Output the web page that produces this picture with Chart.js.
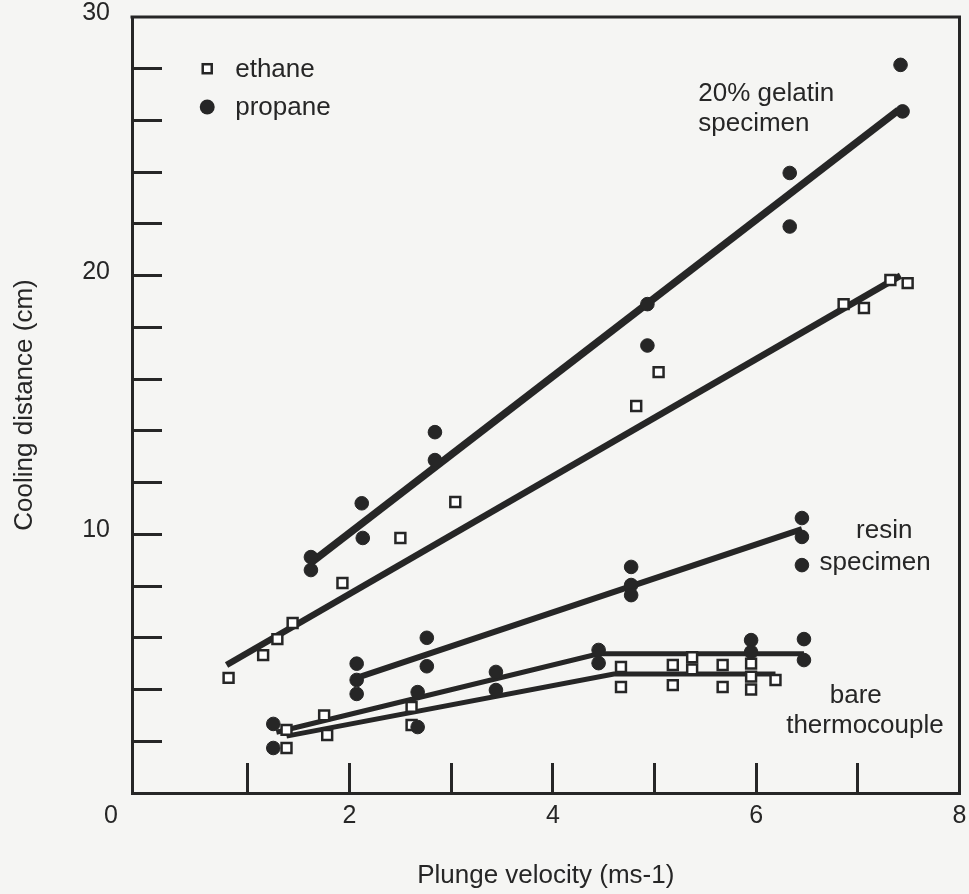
<!DOCTYPE html>
<html>
<head>
<meta charset="utf-8">
<script src="https://cdn.jsdelivr.net/npm/chart.js@4.4.1/dist/chart.umd.min.js"></script>
<style>
html,body{margin:0;padding:0;background:#f5f5f3;}
#wrap{width:969px;height:894px;}
canvas{display:block;}
</style>
</head>
<body>
<div id="wrap"><canvas id="c" width="969" height="894"></canvas></div>
<script>
// ---------- data ----------
const xTickValues = [0, 1, 2, 3, 4, 5, 6, 7, 8];
const xTickLabels = {2: '2', 4: '4', 6: '6', 8: '8'};
const yTickLabels = {10: '10', 20: '20', 30: '30'};
const originLabel = '0';

// 20% gelatin specimen
const gelatinPropaneV = [1.62, 1.62, 2.12, 2.13, 2.84, 2.84, 4.93, 4.93, 6.33, 6.33, 7.42, 7.44];
const gelatinPropaneD = [9.12, 8.62, 11.2, 9.86, 13.95, 12.87, 18.9, 17.3, 23.97, 21.9, 28.15, 26.35];
const gelatinEthaneV = [0.81, 1.15, 1.29, 1.44, 1.93, 2.5, 3.04, 4.82, 5.04, 6.86, 7.06, 7.32, 7.49];
const gelatinEthaneD = [4.45, 5.33, 5.95, 6.57, 8.12, 9.86, 11.25, 14.96, 16.27, 18.9, 18.75, 19.83, 19.71];

// resin specimen
const resinPropaneV = [2.07, 2.07, 2.07, 2.76, 2.76, 4.77, 4.77, 4.77, 6.45, 6.45, 6.45];
const resinPropaneD = [5.0, 4.37, 3.83, 6.0, 4.9, 8.74, 8.04, 7.65, 10.63, 9.9, 8.81];

// bare thermocouple
const bareProppaneV = [1.25, 1.25, 2.67, 2.67, 3.44, 3.44, 4.45, 4.45, 5.95, 5.95, 6.47, 6.47];
const bareProppaneD = [2.67, 1.74, 3.9, 2.55, 4.68, 3.98, 5.53, 5.02, 5.91, 5.45, 5.95, 5.14];
const bareEthaneV = [1.38, 1.38, 1.75, 1.78, 2.61, 2.61, 4.67, 4.67, 5.18, 5.18, 5.37, 5.37, 5.67, 5.67, 5.95, 5.95, 5.95, 6.19];
const bareEthaneD = [2.44, 1.74, 3.0, 2.24, 3.33, 2.63, 4.87, 4.1, 4.95, 4.17, 5.25, 4.78, 4.95, 4.1, 5.0, 4.5, 4.0, 4.37];

// fitted lines
const gelatinPropaneFitV = [1.62, 7.40];
const gelatinPropaneFitD = [8.9, 26.4];
const gelatinEthaneFitV = [0.79, 7.42];
const gelatinEthaneFitD = [4.95, 20.0];
const resinFitV = [2.07, 6.45];
const resinFitD = [4.45, 10.2];
const bareProppaneFitV = [1.28, 4.45, 6.47];
const bareProppaneFitD = [2.35, 5.38, 5.38];
const bareEthaneFitV = [1.38, 4.6, 6.19];
const bareEthaneFitD = [2.2, 4.6, 4.6];

// text
const xTitle = 'Plunge velocity (ms-1)';
const yTitle = 'Cooling distance (cm)';
const legendItems = [
  {label: 'ethane', style: 'rect', v: 0.6, d: 28.0},
  {label: 'propane', style: 'circle', v: 0.6, d: 26.52}
];
const annotations = [
  {text: '20% gelatin', v: 5.43, d: 26.75, align: 'left'},
  {text: 'specimen', v: 5.43, d: 25.59, align: 'left'},
  {text: 'resin', v: 7.26, d: 9.86, align: 'center'},
  {text: 'specimen', v: 7.17, d: 8.62, align: 'center'},
  {text: 'bare', v: 6.98, d: 3.48, align: 'center'},
  {text: 'thermocouple', v: 7.07, d: 2.32, align: 'center'}
];

// ---------- helpers ----------
const pts = (vs, ds) => vs.map((v, i) => ({x: v, y: ds[i]}));
const INK = '#262626';
const FONT = '"Liberation Sans", Arial, Helvetica, sans-serif';
Chart.defaults.font.family = FONT;
Chart.defaults.color = INK;

function lineSet(label, vs, ds, w) {
  return {label, data: pts(vs, ds), showLine: true, pointRadius: 0, pointHoverRadius: 0,
    borderColor: INK, borderWidth: w, backgroundColor: INK, order: 2, tension: 0};
}
function ethaneSet(label, vs, ds) {
  return {label, data: pts(vs, ds), showLine: false, pointStyle: 'rect', pointRadius: 7,
    pointBorderWidth: 2.5, pointBackgroundColor: '#ffffff', pointBorderColor: INK, order: 1};
}
function propaneSet(label, vs, ds) {
  return {label, data: pts(vs, ds), showLine: false, pointStyle: 'circle', pointRadius: 6.8,
    pointBorderWidth: 1, pointBackgroundColor: INK, pointBorderColor: INK, order: 1};
}
function noPad(s) {
  s.paddingTop = 0; s.paddingBottom = 0; s.paddingLeft = 0; s.paddingRight = 0;
}

const decor = {
  id: 'decor',
  beforeDraw(chart) {
    const {ctx, width, height} = chart;
    ctx.save();
    ctx.fillStyle = '#f5f5f3';
    ctx.fillRect(0, 0, width, height);
    ctx.restore();
  },
  afterDraw(chart) {
    const {ctx, chartArea: a, scales: {x, y}} = chart;
    ctx.save();
    // top and right frame
    ctx.strokeStyle = INK;
    ctx.lineWidth = 3;
    ctx.lineCap = 'square';
    ctx.beginPath();
    ctx.moveTo(a.left, a.top);
    ctx.lineTo(a.right, a.top);
    ctx.lineTo(a.right, a.bottom);
    ctx.stroke();

    // shared origin label
    ctx.fillStyle = INK;
    ctx.font = '25px ' + FONT;
    ctx.textAlign = 'center';
    ctx.textBaseline = 'middle';
    ctx.fillText(originLabel, a.left - 21, a.bottom + 23);

    // legend inside the plot
    ctx.font = '26px ' + FONT;
    ctx.textAlign = 'left';
    legendItems.forEach(it => {
      const px = x.getPixelForValue(it.v), py = y.getPixelForValue(it.d);
      if (it.style === 'rect') {
        ctx.fillStyle = '#ffffff';
        ctx.fillRect(px - 4.5, py - 4.5, 9, 9);
        ctx.lineWidth = 2.5;
        ctx.strokeStyle = INK;
        ctx.strokeRect(px - 4.5, py - 4.5, 9, 9);
      } else {
        ctx.fillStyle = INK;
        ctx.beginPath();
        ctx.arc(px, py, 7.5, 0, Math.PI * 2);
        ctx.fill();
      }
      ctx.fillStyle = INK;
      ctx.textBaseline = 'middle';
      ctx.fillText(it.label, px + 28, py + 1);
    });

    // annotations
    ctx.font = '26px ' + FONT;
    ctx.textBaseline = 'alphabetic';
    annotations.forEach(an => {
      ctx.textAlign = an.align;
      ctx.fillText(an.text, x.getPixelForValue(an.v), y.getPixelForValue(an.d));
    });
    ctx.restore();
  }
};

new Chart(document.getElementById('c'), {
  type: 'scatter',
  data: {
    datasets: [
      lineSet('gelatin propane fit', gelatinPropaneFitV, gelatinPropaneFitD, 7.5),
      lineSet('gelatin ethane fit', gelatinEthaneFitV, gelatinEthaneFitD, 6.5),
      lineSet('resin propane fit', resinFitV, resinFitD, 6),
      lineSet('bare propane fit', bareProppaneFitV, bareProppaneFitD, 5),
      lineSet('bare ethane fit', bareEthaneFitV, bareEthaneFitD, 5),
      propaneSet('propane (gelatin)', gelatinPropaneV, gelatinPropaneD),
      ethaneSet('ethane (gelatin)', gelatinEthaneV, gelatinEthaneD),
      propaneSet('propane (resin)', resinPropaneV, resinPropaneD),
      propaneSet('propane (bare)', bareProppaneV, bareProppaneD),
      ethaneSet('ethane (bare)', bareEthaneV, bareEthaneD)
    ]
  },
  options: {
    responsive: false,
    animation: false,
    devicePixelRatio: 1,
    layout: {padding: {left: 0, right: 7, top: 17, bottom: 0}},
    plugins: {legend: {display: false}, tooltip: {enabled: false}},
    scales: {
      x: {
        type: 'linear', min: -0.14, max: 8,
        afterBuildTicks: ax => { ax.ticks = xTickValues.map(v => ({value: v})); },
        afterFit: s => { s.height = 101; noPad(s); },
        ticks: {
          callback: v => xTickLabels[v] || '',
          autoSkip: false, maxRotation: 0, minRotation: 0,
          padding: 38, color: INK, font: {size: 25}
        },
        grid: {
          drawOnChartArea: false, drawTicks: true, tickLength: -30, lineWidth: 3,
          color: c => (c.tick && (c.tick.value === 0 || c.tick.value === 8)) ? 'rgba(0,0,0,0)' : INK
        },
        border: {display: true, color: INK, width: 3},
        title: {display: true, text: xTitle, color: INK, font: {size: 26}, padding: {top: 0, bottom: 3}}
      },
      y: {
        type: 'linear', min: 0, max: 30,
        afterFit: s => { s.width = 132; noPad(s); },
        ticks: {
          stepSize: 2,
          callback: v => yTickLabels[v] || '',
          autoSkip: false, padding: 52, labelOffset: -4, color: INK, font: {size: 25}
        },
        grid: {
          drawOnChartArea: false, drawTicks: true, tickLength: -30, lineWidth: 3,
          color: c => (c.tick && (c.tick.value === 0 || c.tick.value === 30)) ? 'rgba(0,0,0,0)' : INK
        },
        border: {display: true, color: INK, width: 3},
        title: {display: true, text: yTitle, color: INK, font: {size: 26}, padding: {top: 9, bottom: 0}}
      }
    }
  },
  plugins: [decor]
});
</script>
</body>
</html>
